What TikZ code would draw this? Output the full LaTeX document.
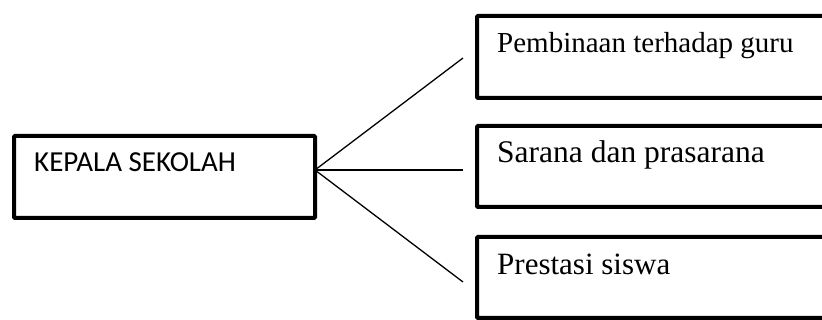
\documentclass[tikz,border=0pt]{standalone}
\usepackage{fontspec}
\setmainfont{Liberation Serif}
\newfontfamily\calfont{Carlito}
\tikzset{
  box/.style={draw=black, line width=4pt, rounded corners=1pt, inner sep=0pt},
  label serif/.style={inner sep=0pt, anchor=base west},
  label sans/.style={inner sep=0pt, anchor=base west, font=\calfont\fontsize{29}{36}\selectfont},
  conn/.style={draw=black, line width=1.3pt}
}
\begin{document}
\begin{tikzpicture}[x=1pt, y=-1pt]
\useasboundingbox (0,0) rectangle (822,320);
\clip (0,0) rectangle (822,320);
% boxes
\node[box, minimum width=301pt, minimum height=82pt, anchor=north west] (kepala) at (12,134) {};
\node[box, minimum width=370pt, minimum height=82pt, anchor=north west] (guru) at (475,14) {};
\node[box, minimum width=370pt, minimum height=81pt, anchor=north west] (sarana) at (475,124) {};
\node[box, minimum width=370pt, minimum height=81pt, anchor=north west] (prestasi) at (475,235) {};
% texts
\node[label sans] (tkepala) at (34,172) {KEPALA SEKOLAH};
\node[label serif, font=\fontsize{29}{36}\selectfont] (tguru) at (497,53) {Pembinaan terhadap guru};
\node[label serif, font=\fontsize{31.5}{38}\selectfont] (tsarana) at (497,163) {Sarana dan prasarana};
\node[label serif, font=\fontsize{31}{38}\selectfont] (tprestasi) at (497,275) {Prestasi siswa};
% connectors
\coordinate (hub) at (315,170);
\coordinate (e1) at (463,58);
\coordinate (e2) at (463,170);
\coordinate (e3) at (463,282);
\draw[conn] (hub) -- (e1);
\draw[conn] (hub) -- (e2);
\draw[conn] (hub) -- (e3);
\end{tikzpicture}
\end{document}
